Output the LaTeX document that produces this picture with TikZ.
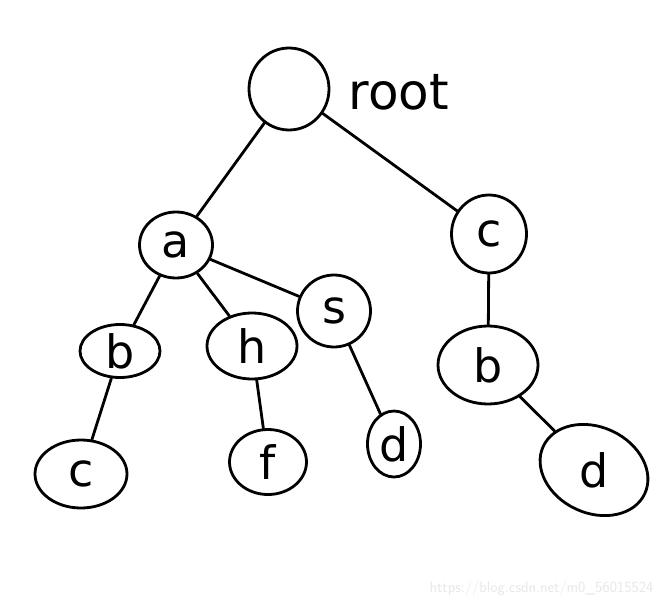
\documentclass[tikz,border=0pt]{standalone}
\usepackage{fontspec}
\setmainfont{DejaVu Sans}
\usetikzlibrary{shapes.geometric}
\begin{document}
\begin{tikzpicture}[x=1pt,y=-1pt,
  trienode/.style={draw,ellipse,line width=2.8pt,inner sep=0pt,
    font=\fontsize{46}{50}\selectfont},
  link/.style={line width=2.8pt,line cap=round}]
\useasboundingbox (0,0) rectangle (671,607);
\fill[white] (0,0) rectangle (671,607);
\node[trienode,minimum width=80pt,minimum height=82pt] (root) at (289,89) {};
\node[anchor=west,font=\fontsize{50}{54}\selectfont] (rootlbl) at (345,92) {root};
\node[trienode,minimum width=73pt,minimum height=66pt] (a) at (176,245) {a};
\node[trienode,minimum width=75pt,minimum height=78pt] (c1) at (489,234) {c};
\node[trienode,minimum width=80pt,minimum height=53pt] (b1) at (120,351) {b};
\node[trienode,minimum width=90pt,minimum height=66pt] (h) at (252,346) {h};
\node[trienode,minimum width=73pt,minimum height=72pt] (s) at (334,311) {s};
\node[trienode,minimum width=100pt,minimum height=78pt] (b2) at (488,365) {b};
\node[trienode,minimum width=92pt,minimum height=68pt] (c2) at (81,474) {c};
\node[trienode,minimum width=77pt,minimum height=65pt] (f) at (268,462) {f};
\node[trienode,minimum width=53pt,minimum height=66pt] (d1) at (394,444) {d};
\node[trienode,minimum width=112pt,minimum height=86pt,rotate=-25] (d2) at (594,470) {\rotatebox{25}{d}};
\draw[link] (root) -- (a);
\draw[link] (root) -- (c1);
\draw[link] (a) -- (b1);
\draw[link] (a) -- (h);
\draw[link] (a) -- (s);
\draw[link] (s) -- (d1);
\draw[link] (b1) -- (c2);
\draw[link] (h) -- (f);
\draw[link] (c1) -- (b2);
\draw[link] (b2) -- (d2);
\node[anchor=east,text=black!9,font=\fontsize{15.5}{18}\selectfont\sffamily] (wm) at (657,589) {https://blog.csdn.net/m0\_56015524};
\end{tikzpicture}
\end{document}
